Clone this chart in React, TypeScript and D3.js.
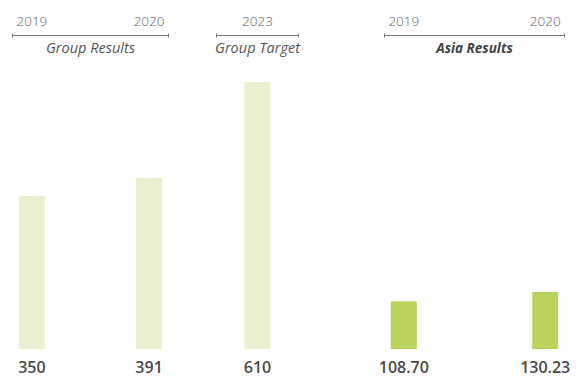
import React from "react";
import * as d3 from "d3";

const groupNames = ["Group Results", "Group Target", "Asia Results"];
const groupYears = [["2019", "2020"], ["2023"], ["2019", "2020"]];
const groupValues = [[350, 391], [610], [108.7, 130.23]];
const valueLabels = [["350", "391"], ["610"], ["108.70", "130.23"]];
const groupHighlight = [false, false, true];

const W = 579;
const H = 378;
// header bracket extents and inner padding for each group (layout)
const groupExtents: [number, number][] = [
  [12, 169],
  [216, 299],
  [384, 565],
];
const groupPadding = [0.17, 0.5, 0.14];
const BAR_W = 26;
const FONT = "'Open Sans', 'Noto Sans', sans-serif";

export default function App() {
  const y = d3.scaleLinear().domain([0, 610]).range([349, 82]);
  return (
    <svg
      width={W}
      height={H}
      style={{ position: "absolute", left: 0, top: 0 }}
      fontFamily={FONT}
    >
      {groupNames.map((name, gi) => {
        const [x0, x1] = groupExtents[gi];
        const x = d3
          .scalePoint<string>()
          .domain(groupYears[gi])
          .range([x0, x1])
          .padding(groupPadding[gi]);
        const hl = groupHighlight[gi];
        return (
          <g key={name}>
            <line x1={x0} x2={x1} y1={35.5} y2={35.5} stroke="#7a7a7a" strokeWidth={1} />
            <line x1={x0 + 0.5} x2={x0 + 0.5} y1={33.5} y2={37.5} stroke="#7a7a7a" strokeWidth={1} />
            <line x1={x1 - 0.5} x2={x1 - 0.5} y1={33.5} y2={37.5} stroke="#7a7a7a" strokeWidth={1} />
            <text
              x={(x0 + x1) / 2}
              y={53}
              textAnchor="middle"
              fontSize={hl ? 13.5 : 14.5}
              fontStyle="italic"
              fontWeight={hl ? 700 : 400}
              fill={hl ? "#444" : "#555"}
            >
              {name}
            </text>
            {groupYears[gi].map((yr, i) => {
              const cx = x(yr)!;
              const v = groupValues[gi][i];
              return (
                <g key={yr}>
                  <text x={cx} y={26} textAnchor="middle" fontSize={13.5} fontWeight={300} fill="#5f5f5f">
                    {yr}
                  </text>
                  <rect
                    x={cx - BAR_W / 2}
                    y={y(v)}
                    width={BAR_W}
                    height={y(0) - y(v)}
                    fill={hl ? "#b9d35b" : "#e9f1d0"}
                  />
                  <text
                    x={cx}
                    y={373}
                    textAnchor="middle"
                    fontSize={16}
                    fontWeight={600}
                    fill="#4a4a4a"
                  >
                    {valueLabels[gi][i]}
                  </text>
                </g>
              );
            })}
          </g>
        );
      })}
    </svg>
  );
}
